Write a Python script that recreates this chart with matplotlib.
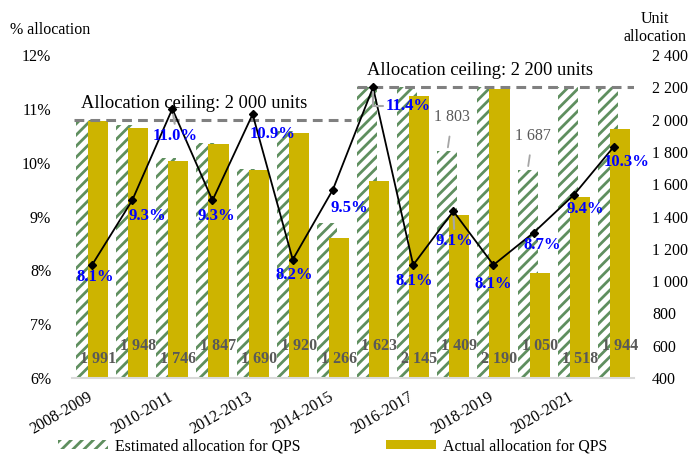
import matplotlib
matplotlib.use("Agg")
import matplotlib.pyplot as plt
from matplotlib.ticker import FuncFormatter, MultipleLocator
from matplotlib.transforms import ScaledTranslation
import numpy as np

# Academic years
years = ["2008-2009", "2009-2010", "2010-2011", "2011-2012", "2012-2013", "2013-2014", "2014-2015",
         "2015-2016", "2016-2017", "2017-2018", "2018-2019", "2019-2020", "2020-2021", "2021-2022"]
# Estimated allocation (units) and actual allocation (units)
estimated = [2000, 1965, 1760, 1855, 1695, 1930, 1360, 2200, 2200, 1803, 2200, 1687, 2200, 2200]
actual = [1991, 1948, 1746, 1847, 1690, 1920, 1266, 1623, 2145, 1409, 2190, 1050, 1518, 1944]
# Share allocated (%)
pct = [8.1, 9.3, 11.0, 9.3, 10.9, 8.2, 9.5, 11.4, 8.1, 9.1, 8.1, 8.7, 9.4, 10.3]
# Allocation ceilings (units)
ceil_old, ceil_new = 2000, 2200
# estimated values printed above their bars
est_shown = [9, 11]

GREEN = "#5F8F5F"
GOLD = "#CDB400"
GRAYTXT = "#595959"
BLUE = "#0000FF"

plt.rcParams["font.family"] = ["Liberation Serif", "DejaVu Serif"]
plt.rcParams["hatch.linewidth"] = 2.0

def units(v):
	return "{:,}".format(int(v)).replace(",", " ")

fig = plt.figure(figsize=(6.9, 4.59), dpi=100)
ax = fig.add_axes([0.1043, 0.1765, 0.8145, 0.7035])
x = np.arange(len(years))
w = 0.5

b_est = ax.bar(x - 0.15, estimated, w, color="white", edgecolor=GREEN, hatch="///", lw=0, zorder=2,
               label="Estimated allocation for QPS")
b_act = ax.bar(x + 0.15, actual, w, color=GOLD, lw=0, zorder=3, label="Actual allocation for QPS")

ax.set_xlim(-0.5, len(years) - 0.5)
ax.set_ylim(400, 2400)
ax.yaxis.set_major_locator(MultipleLocator(200))
ax.yaxis.set_major_formatter(FuncFormatter(lambda v, p: units(v)))
ax.set_xticks(x[::2])
ax.set_xticklabels(years[::2], rotation=30, ha="right", rotation_mode="anchor", fontsize=11.5)
ax.tick_params(axis="x", length=0, pad=8)
shift = ScaledTranslation(-0.05, 0, fig.dpi_scale_trans)
for lab in ax.get_xticklabels():
	lab.set_transform(lab.get_transform() + shift)
for s in ["top", "left", "right"]:
	ax.spines[s].set_visible(False)
ax.spines["bottom"].set_color("#D9D9D9")
ax.spines["bottom"].set_linewidth(1.5)
ax.spines["bottom"].set_zorder(4)

# ceiling lines
ax.plot([-0.45, 6.45], [ceil_old, ceil_old], ls=(0, (3.2, 2)), color="#808080", lw=2.2, zorder=4)
ax.plot([6.6, 13.6], [ceil_new, ceil_new], ls=(0, (3.2, 2)), color="#808080", lw=2.2, zorder=4)
ax.text(-0.27, ceil_old + 50, "Allocation ceiling: " + units(ceil_old) + " units", fontsize=13.3, va="bottom")
ax.text(6.85, ceil_new + 50, "Allocation ceiling: " + units(ceil_new) + " units", fontsize=13.3, va="bottom")

# actual values at the foot of the gold bars
for i, v in enumerate(actual):
	ax.text(x[i] + 0.15, 518 if i % 2 == 0 else 598, units(v), ha="center", va="center",
	        fontsize=11.5, fontweight="bold", color=GRAYTXT, zorder=5)

# estimated values above a couple of hatched bars
for i in est_shown:
	ax.annotate(units(estimated[i]), xy=(x[i] - 0.15, estimated[i]), xytext=(5, 34),
	            textcoords="offset pixels", ha="center", va="center", fontsize=11.5, color=GRAYTXT,
	            arrowprops=dict(arrowstyle="-", color="#A6A6A6", lw=1.3, shrinkA=6, shrinkB=3), zorder=5)

# percentage line on the left axis
axl = ax.twinx()
ax.yaxis.tick_right()
axl.yaxis.tick_left()
ax.tick_params(axis="y", length=0, pad=13, labelsize=11.5)
axl.set_ylim(6, 12)
axl.yaxis.set_major_locator(MultipleLocator(1))
axl.yaxis.set_major_formatter(FuncFormatter(lambda v, p: "{:.0f}%".format(v)))
axl.tick_params(axis="y", length=0, pad=15, labelsize=11.5)
for s in axl.spines.values():
	s.set_visible(False)
axl.plot(x, pct, color="black", lw=1.3, marker="D", ms=4.5, zorder=6)

offs = [(3, -12), (15, -16), (3, -27), (4, -16), (20, -20), (1, -15), (16, -18),
        (35, -19), (1, -16), (1, -30), (0, -19), (9, -12), (11, -14), (13, -15)]
for i, v in enumerate(pct):
	lead = None
	if i == 7:
		lead = dict(arrowstyle="-", color="#A6A6A6", lw=1.5, relpos=(0, 0.5), shrinkA=0, shrinkB=3,
		            connectionstyle="angle,angleA=0,angleB=90,rad=0")
	elif i in (2, 9):
		lead = dict(arrowstyle="-", color="#A6A6A6", lw=1.5, relpos=(0.5, 1), shrinkA=1, shrinkB=4)
	axl.annotate("{:.1f}%".format(v), xy=(x[i], v), xytext=offs[i], textcoords="offset pixels",
	             ha="center", va="center", fontsize=12, fontweight="bold", color=BLUE,
	             arrowprops=lead, zorder=7)

fig.text(0.014, 0.935, "% allocation", fontsize=11.5, va="center", ha="left")
fig.text(0.949, 0.939, "Unit\nallocation", fontsize=11.5, va="center", ha="center", linespacing=1.15)

fig.legend(handles=[b_est, b_act], loc="center", bbox_to_anchor=(0.482, 0.028), ncol=2, frameon=False,
           fontsize=11.4, handlelength=3.15, handleheight=0.5, columnspacing=5.4, handletextpad=0.45)

fig.savefig("out.png", dpi=100)
